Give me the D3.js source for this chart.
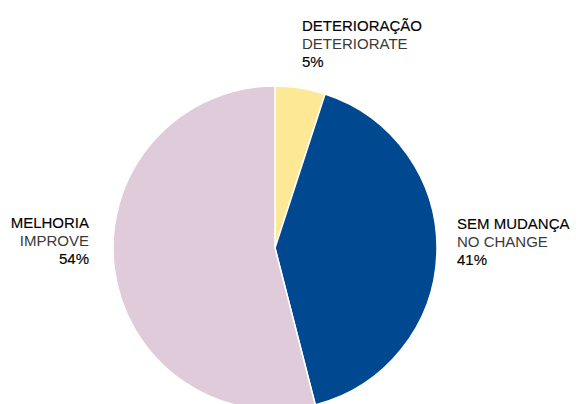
<!DOCTYPE html>
<html>
<head>
<meta charset="utf-8">
<script src="https://cdn.jsdelivr.net/npm/d3@7"></script>
<style>
  body { margin: 0; background: #fff; }
  text { font-family: "Liberation Sans", Arial, sans-serif; font-size: 15px; }
</style>
</head>
<body>
<div id="chart"></div>
<script>
const canvas_w = 579;
const canvas_h = 404;

// data
const labels_pt = [ 'DETERIORAÇÃO', 'SEM MUDANÇA', 'MELHORIA' ];
const labels_en = [ 'DETERIORATE', 'NO CHANGE', 'IMPROVE' ];
const values    = [ 5, 41, 54 ];
const colours   = [ '#fde995', '#004990', '#dfcbd9' ];

const cx = 275, cy = 248, radius = 162;

let svg = d3.select( '#chart' )
            .append( 'svg' )
            .attr( 'width', canvas_w )
            .attr( 'height', canvas_h );

let pie = d3.pie().sort( null ).value( d => d );
let arc = d3.arc().innerRadius( 0 ).outerRadius( radius );

let g = svg.append( 'g' ).attr( 'transform', `translate(${cx},${cy})` );

g.selectAll( 'path' )
 .data( pie( values ) )
 .enter()
 .append( 'path' )
 .attr( 'd', arc )
 .attr( 'fill', (d, i) => colours[i] )
 .attr( 'stroke', '#fff' )
 .attr( 'stroke-width', 1.5 );

// label positions (x, baseline of first line, anchor)
const label_pos = [
    { x: 302, y: 31,  anchor: 'start' },
    { x: 457, y: 229, anchor: 'start' },
    { x: 89,  y: 228, anchor: 'end' }
];

let lab = svg.selectAll( 'g.lab' )
             .data( values )
             .enter()
             .append( 'g' )
             .attr( 'class', 'lab' );

lab.append( 'text' )
   .attr( 'x', (d, i) => label_pos[i].x )
   .attr( 'y', (d, i) => label_pos[i].y )
   .attr( 'text-anchor', (d, i) => label_pos[i].anchor )
   .attr( 'fill', '#000' )
   .attr( 'stroke', '#000' )
   .attr( 'stroke-width', 0.15 )
   .text( (d, i) => labels_pt[i] );

lab.append( 'text' )
   .attr( 'x', (d, i) => label_pos[i].x )
   .attr( 'y', (d, i) => label_pos[i].y + 18 )
   .attr( 'text-anchor', (d, i) => label_pos[i].anchor )
   .attr( 'fill', '#3a3a3a' )
   .text( (d, i) => labels_en[i] );

lab.append( 'text' )
   .attr( 'x', (d, i) => label_pos[i].x )
   .attr( 'y', (d, i) => label_pos[i].y + 36 )
   .attr( 'text-anchor', (d, i) => label_pos[i].anchor )
   .attr( 'fill', '#000' )
   .attr( 'stroke', '#000' )
   .attr( 'stroke-width', 0.15 )
   .text( d => d + '%' );
</script>
</body>
</html>
